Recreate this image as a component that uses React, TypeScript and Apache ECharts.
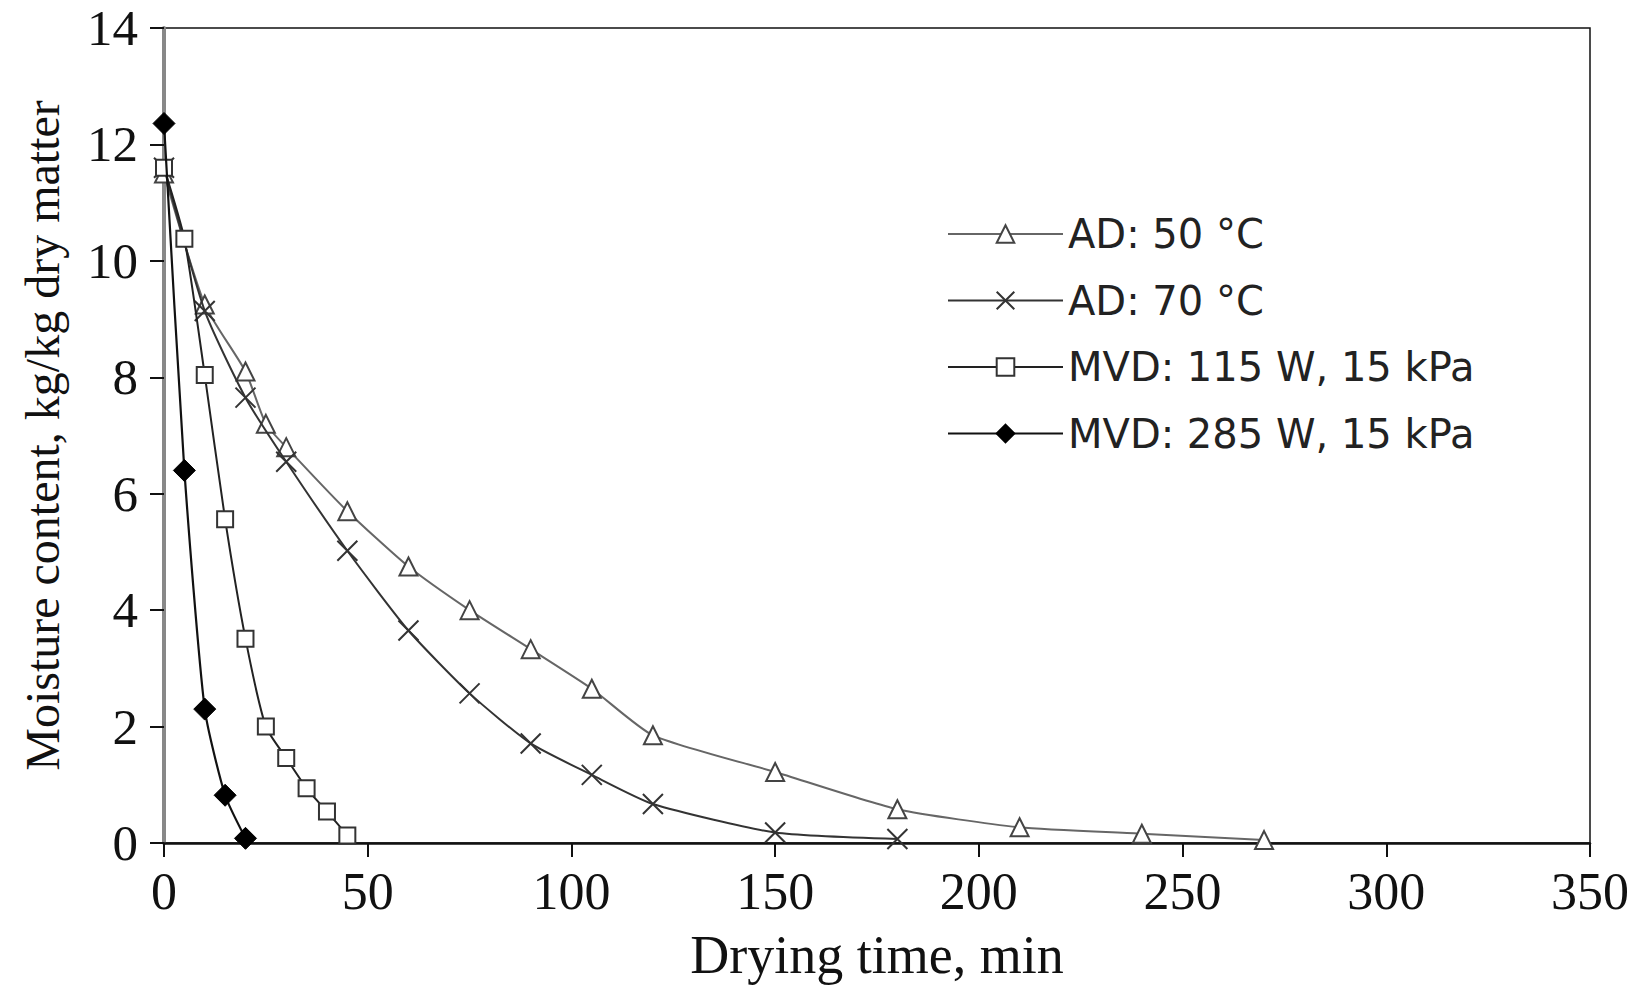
import React, { useEffect, useRef } from "react";
import * as echarts from "echarts";

const xTicks = { min: 0, max: 350, interval: 50 };
const yTicks = { min: 0, max: 14, interval: 2 };

const ad50Time = [0, 10, 20, 25, 30, 45, 60, 75, 90, 105, 120, 150, 180, 210, 240, 270];
const ad50Moisture = [11.5, 9.25, 8.1, 7.2, 6.8, 5.7, 4.75, 4.0, 3.33, 2.65, 1.85, 1.22, 0.58, 0.27, 0.16, 0.05];

const ad70Time = [0, 10, 20, 30, 45, 60, 75, 90, 105, 120, 150, 180];
const ad70Moisture = [11.6, 9.14, 7.65, 6.55, 5.02, 3.65, 2.57, 1.71, 1.17, 0.67, 0.18, 0.07];

const mvd115Time = [0, 5, 10, 15, 20, 25, 30, 35, 40, 45];
const mvd115Moisture = [11.6, 10.38, 8.04, 5.56, 3.51, 2.0, 1.46, 0.94, 0.54, 0.13];

const mvd285Time = [0, 5, 10, 15, 20];
const mvd285Moisture = [12.36, 6.4, 2.3, 0.82, 0.08];

const seriesNames = ["AD: 50 °C", "AD: 70 °C", "MVD: 115 W, 15 kPa", "MVD: 285 W, 15 kPa"];

const pairs = (xs: number[], ys: number[]) => xs.map((x, i) => [x, ys[i]]);

const crossPath = "path://M0,0L10,10M10,0L0,10";

export default function App() {
  const ref = useRef<HTMLDivElement>(null);
  useEffect(() => {
    if (!ref.current) return;
    const chart = echarts.init(ref.current, null, { renderer: "svg" });
    const serif = "Liberation Serif";
    chart.setOption({
      animation: false,
      backgroundColor: "#ffffff",
      grid: {
        left: 164,
        top: 28,
        width: 1426,
        height: 815,
        containLabel: false,
        outerBoundsMode: "none",
        show: true,
        borderColor: "#111",
        borderWidth: 1.5,
        backgroundColor: "transparent",
      },
      legend: {
        orient: "vertical",
        left: 942,
        top: 209,
        itemWidth: 115,
        itemHeight: 22,
        itemGap: 26.5,
        data: seriesNames,
        textStyle: { fontFamily: "DejaVu Sans", fontSize: 40, color: "#222", padding: [0, 0, 0, 0] },
      },
      xAxis: {
        type: "value",
        min: xTicks.min,
        max: xTicks.max,
        interval: xTicks.interval,
        name: "Drying time, min",
        nameLocation: "middle",
        nameGap: 85,
        nameTextStyle: { fontFamily: serif, fontSize: 54, color: "#111" },
        axisLine: { show: true, onZero: false, lineStyle: { color: "#111", width: 2.5 } },
        axisTick: { show: true, inside: false, length: 14, lineStyle: { color: "#111", width: 2 } },
        axisLabel: { fontFamily: serif, fontSize: 52, color: "#111", margin: 22 },
        splitLine: { show: false },
      },
      yAxis: {
        type: "value",
        min: yTicks.min,
        max: yTicks.max,
        interval: yTicks.interval,
        name: "Moisture content, kg/kg dry matter",
        nameLocation: "middle",
        nameGap: 98,
        nameTextStyle: { fontFamily: serif, fontSize: 48, color: "#111" },
        axisLine: { show: true, onZero: false, lineStyle: { color: "#888", width: 4 } },
        axisTick: { show: true, inside: false, length: 14, lineStyle: { color: "#111", width: 2 } },
        axisLabel: { fontFamily: serif, fontSize: 51, color: "#111", margin: 26 },
        splitLine: { show: false },
      },
      series: [
        {
          name: seriesNames[0],
          type: "line",
          data: pairs(ad50Time, ad50Moisture),
          smooth: 0.2,
          symbol: "triangle",
          symbolSize: 18,
          lineStyle: { color: "#666", width: 2 },
          itemStyle: { color: "#fff", borderColor: "#444", borderWidth: 2 },
          z: 2,
        },
        {
          name: seriesNames[1],
          type: "line",
          data: pairs(ad70Time, ad70Moisture),
          smooth: 0.2,
          symbol: crossPath,
          symbolSize: 20,
          lineStyle: { color: "#333", width: 2 },
          itemStyle: { color: "#fff", borderColor: "#333", borderWidth: 2 },
          z: 3,
        },
        {
          name: seriesNames[2],
          type: "line",
          data: pairs(mvd115Time, mvd115Moisture),
          smooth: 0.2,
          symbol: "rect",
          symbolSize: 16,
          lineStyle: { color: "#222", width: 2 },
          itemStyle: { color: "#fff", borderColor: "#333", borderWidth: 2 },
          z: 4,
        },
        {
          name: seriesNames[3],
          type: "line",
          data: pairs(mvd285Time, mvd285Moisture),
          smooth: 0.2,
          symbol: "diamond",
          symbolSize: 22,
          lineStyle: { color: "#111", width: 2.2 },
          itemStyle: { color: "#000", borderColor: "#000", borderWidth: 1 },
          z: 5,
        },
      ],
    });
    return () => chart.dispose();
  }, []);
  return (
    <div
      ref={ref}
      style={{ position: "absolute", left: 0, top: 0, width: 1641, height: 987 }}
    />
  );
}
